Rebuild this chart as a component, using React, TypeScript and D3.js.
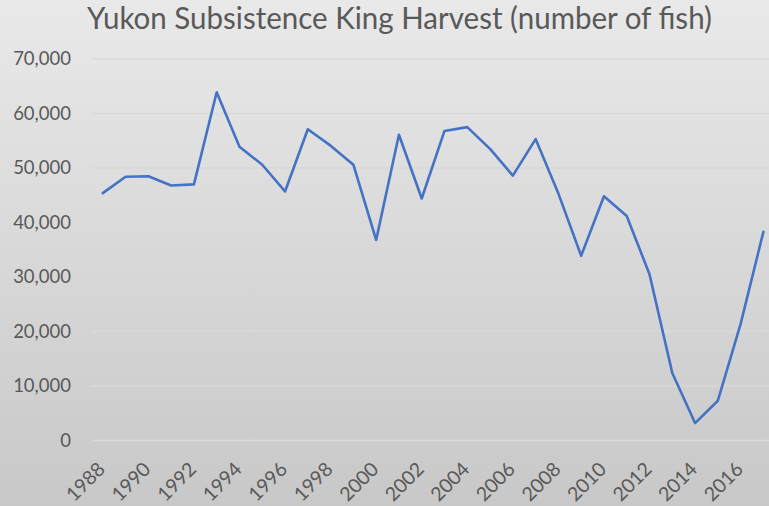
import React from "react";
import * as d3 from "d3";

const years: number[] = [1988,1989,1990,1991,1992,1993,1994,1995,1996,1997,1998,1999,2000,2001,2002,2003,2004,2005,2006,2007,2008,2009,2010,2011,2012,2013,2014,2015,2016,2017];
const harvest: number[] = [45400,48400,48500,46800,47000,63900,53900,50600,45700,57100,54100,50600,36800,56100,44400,56800,57500,53500,48600,55300,45300,33900,44800,41200,30500,12400,3200,7300,21400,38300];
const yTicks: number[] = [0,10000,20000,30000,40000,50000,60000,70000];
const xTickYears: number[] = [1988,1990,1992,1994,1996,1998,2000,2002,2004,2006,2008,2010,2012,2014,2016];
const title = "Yukon Subsistence King Harvest (number of fish)";

const W = 769;
const H = 506;
const FONT = "Lato, 'Open Sans', sans-serif";
const TEXT = "#595959";

export default function App() {
  const left = 91.4;
  const step = 22.78;
  const x = d3.scaleBand<number>().domain(years).range([left, left + step * years.length]).padding(0);
  const y = d3.scaleLinear().domain([0, 70000]).range([440.5, 59]);
  const cx = (yr: number) => (x(yr) as number) + x.bandwidth() / 2;
  const line = d3.line<number>().x((_, i) => cx(years[i])).y((d) => y(d));
  const fmt = d3.format(",");
  const right = left + step * years.length;

  return (
    <svg width={W} height={H} style={{ position: "absolute", left: 0, top: 0, display: "block" }}>
      <defs>
        <linearGradient id="bg" x1="0" y1="0" x2="0" y2="1">
          <stop offset="0" stopColor="#e9e9e9" />
          <stop offset="1" stopColor="#c8c8c8" />
        </linearGradient>
      </defs>
      <rect x={0} y={0} width={W} height={H} fill="url(#bg)" />
      <text x={399.5} y={29} textAnchor="middle" fontFamily={FONT} fontSize={30} fill={TEXT} textLength={625} lengthAdjust="spacingAndGlyphs">
        {title}
      </text>
      {yTicks.map((t) => (
        <g key={t}>
          <line x1={left} x2={right} y1={y(t)} y2={y(t)} stroke="#d9d9d9" strokeWidth={1.3} />
          <text x={71} y={y(t)} dy="0.35em" textAnchor="end" fontFamily={FONT} fontSize={18.5} fill={TEXT}>
            {fmt(t)}
          </text>
        </g>
      ))}
      {xTickYears.map((yr) => (
        <text
          key={yr}
          transform={`translate(${cx(yr) + 3.5},${470.5}) rotate(-45)`}
          textAnchor="end"
          fontFamily={FONT}
          fontSize={19.5}
          fill={TEXT}
        >
          {yr}
        </text>
      ))}
      <path d={line(harvest) || ""} fill="none" stroke="#4472c4" strokeWidth={2.6} strokeLinejoin="round" strokeLinecap="round" />
    </svg>
  );
}
